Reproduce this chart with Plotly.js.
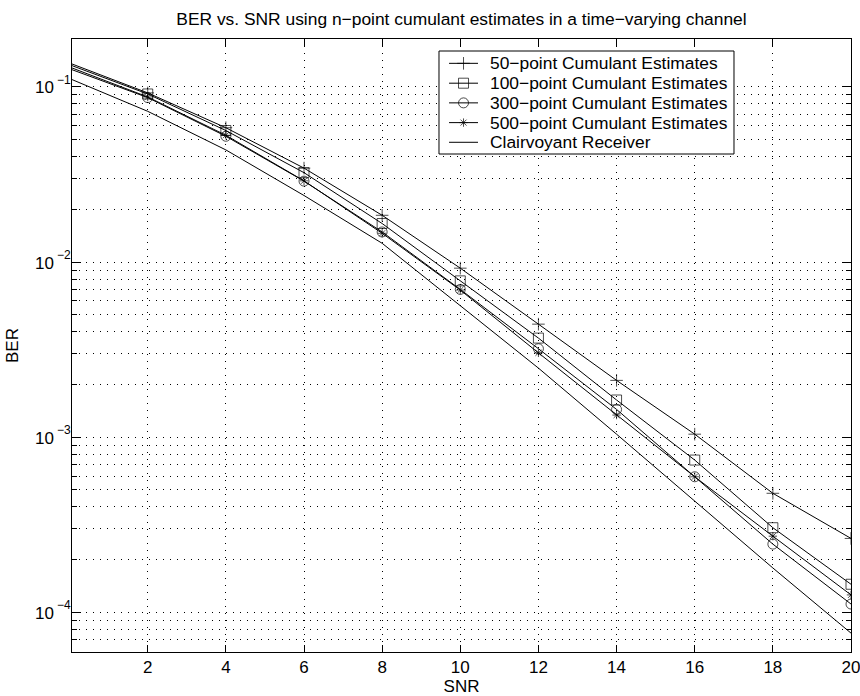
<!DOCTYPE html>
<html>
<head>
<meta charset="utf-8">
<script src="https://cdn.plot.ly/plotly-3.0.1.min.js"></script>
<style>html,body{margin:0;padding:0;background:#fff;}</style>
</head>
<body>
<div id="chart" style="width:860px;height:696px;"></div>
<script>
// SNR values (dB)
const snr = [0, 2, 4, 6, 8, 10, 12, 14, 16, 18, 20];
const xTicks = [2, 4, 6, 8, 10, 12, 14, 16, 18, 20];

// BER readings per series
const ber50  = [0.137, 0.0925, 0.0585, 0.0344, 0.0185, 0.00923, 0.00442, 0.00211, 0.00104, 0.000478, 0.000264];
const ber100 = [0.134, 0.0912, 0.0564, 0.0324, 0.0166, 0.00781, 0.00368, 0.00163, 0.00074, 0.000304, 0.0001445];
const ber300 = [0.127, 0.0870, 0.0523, 0.0290, 0.01486, 0.00698, 0.00320, 0.00144, 0.000594, 0.000245, 0.0001114];
const ber500 = [0.130, 0.0877, 0.0530, 0.0291, 0.0146, 0.00692, 0.00303, 0.001337, 0.000594, 0.000272, 0.0001256];
const berClair = [0.1117, 0.0726, 0.0437, 0.0240, 0.0128, 0.0056, 0.00248, 0.00104, 0.00043, 0.000179, 0.000076];

// y tick labels (decades): base "10" with exponent
const yTickVals = [1e-1, 1e-2, 1e-3, 1e-4];
const yTickExp = ['\u22121', '\u22122', '\u22123', '\u22124'];

const names = [
  "50\u2212point Cumulant Estimates",
  "100\u2212point Cumulant Estimates",
  "300\u2212point Cumulant Estimates",
  "500\u2212point Cumulant Estimates",
  "Clairvoyant Receiver"
];
const titleText = 'BER vs. SNR using n\u2212point cumulant estimates in a time\u2212varying channel';

// marker styles per series (null = plain line)
const symbols = ['cross-thin-open', 'square-open', 'circle-open', 'asterisk-open', null];
const sizes = [9, 10, 10, 7, 0];
const series = [ber50, ber100, ber300, ber500, berClair];

const FONT = 'Liberation Sans, Arial, Helvetica, sans-serif';

const data = series.map((y, i) => {
  const t = {
    x: snr, y: y, name: names[i], type: 'scatter', showlegend: false,
    mode: symbols[i] ? 'lines+markers' : 'lines',
    line: {color: '#000', width: 1}
  };
  if (symbols[i]) {
    t.marker = {symbol: symbols[i], size: snr.map(v => v === 0 ? 0 : sizes[i]),
                color: '#000', line: {color: '#000', width: 1}};
  }
  return t;
});

// ---- Legend drawn on an overlay (0..1) axis pair, matching the compact MATLAB legend ----
const box = {x0: 0.4711, x1: 0.8498, y0: 0.8124, y1: 0.9804};
const rowY = [0.9603, 0.9279, 0.8958, 0.8636, 0.8315];
const sampleX = [0.4840, 0.5026, 0.5212];
const textX = 0.5340;

data.push({
  x: [box.x0, box.x1, box.x1, box.x0, box.x0],
  y: [box.y0, box.y0, box.y1, box.y1, box.y0],
  xaxis: 'x2', yaxis: 'y2', type: 'scatter', mode: 'lines', fill: 'toself',
  fillcolor: '#fff', line: {color: '#000', width: 1}, showlegend: false, hoverinfo: 'skip'
});
const lx = [], ly = [], lsym = [], lsz = [];
rowY.forEach((ry, i) => {
  lx.push(sampleX[0], sampleX[1], sampleX[2], null);
  ly.push(ry, ry, ry, null);
  lsym.push('circle', symbols[i] || 'circle', 'circle', 'circle');
  lsz.push(0, symbols[i] ? sizes[i] : 0, 0, 0);
});
data.push({
  x: lx, y: ly, xaxis: 'x2', yaxis: 'y2', type: 'scatter', mode: 'lines+markers',
  line: {color: '#000', width: 1}, connectgaps: false,
  marker: {symbol: lsym, size: lsz, color: '#000', line: {color: '#000', width: 1}},
  showlegend: false, hoverinfo: 'skip'
});
const annotations = names.map((n, i) => ({
  text: n, xref: 'x2', yref: 'y2', x: textX, y: rowY[i],
  xanchor: 'left', yanchor: 'middle', showarrow: false,
  font: {family: FONT, size: 17.4, color: '#000'}
}));
// y tick labels: "10" plus a raised exponent, just left of the axis
yTickVals.forEach((v, i) => {
  annotations.push({
    text: '10', xref: 'paper', yref: 'y', x: -0.0218, y: Math.log10(v),
    xanchor: 'right', yanchor: 'middle', yshift: -1, showarrow: false, borderpad: 0,
    font: {family: FONT, size: 17, color: '#000'}
  });
  annotations.push({
    text: yTickExp[i], xref: 'paper', yref: 'y', x: -0.0205, y: Math.log10(v),
    xanchor: 'left', yanchor: 'middle', yshift: 7, showarrow: false, borderpad: 0,
    font: {family: FONT, size: 12, color: '#000'}
  });
});

const layout = {
  width: 860, height: 696,
  margin: {l: 72, r: 9, t: 39, b: 44},
  paper_bgcolor: '#fff', plot_bgcolor: '#fff',
  font: {family: FONT, size: 17, color: '#000'},
  showlegend: false,
  title: {text: titleText, xref: 'container', yref: 'container',
          x: 0.5366, xanchor: 'center', y: 0.973, yanchor: 'middle',
          font: {size: 17.4, family: FONT, color: '#000'}},
  xaxis: {
    range: [0.062, 20], tickvals: xTicks,
    ticks: 'inside', ticklen: 7, tickcolor: '#000', mirror: 'ticks',
    showline: true, linecolor: '#000', linewidth: 1,
    showgrid: true, gridcolor: '#000', griddash: '1px,6px', gridwidth: 1,
    zeroline: false, ticklabeloverflow: 'allow',
    title: {text: 'SNR', standoff: 2, font: {size: 17}},
    tickfont: {size: 17}
  },
  yaxis: {
    type: 'log', range: [-4.227, -0.726], dtick: 1,
    showticklabels: false,
    ticks: 'inside', ticklen: 9, tickcolor: '#000', mirror: 'ticks',
    showline: true, linecolor: '#000', linewidth: 1,
    showgrid: true, gridcolor: '#000', griddash: '1px,6px', gridwidth: 1,
    zeroline: false,
    minor: {ticks: 'inside', ticklen: 5, tickcolor: '#000', showgrid: true, gridcolor: '#000', griddash: '1px,6px', gridwidth: 1},
    title: {text: 'BER', standoff: 48, font: {size: 17}}
  },
  xaxis2: {overlaying: 'x', range: [0, 1], visible: false, fixedrange: true},
  yaxis2: {overlaying: 'y', range: [0, 1], visible: false, fixedrange: true},
  annotations: annotations
};

Plotly.newPlot('chart', data, layout, {displayModeBar: false, staticPlot: true});
</script>
</body>
</html>
